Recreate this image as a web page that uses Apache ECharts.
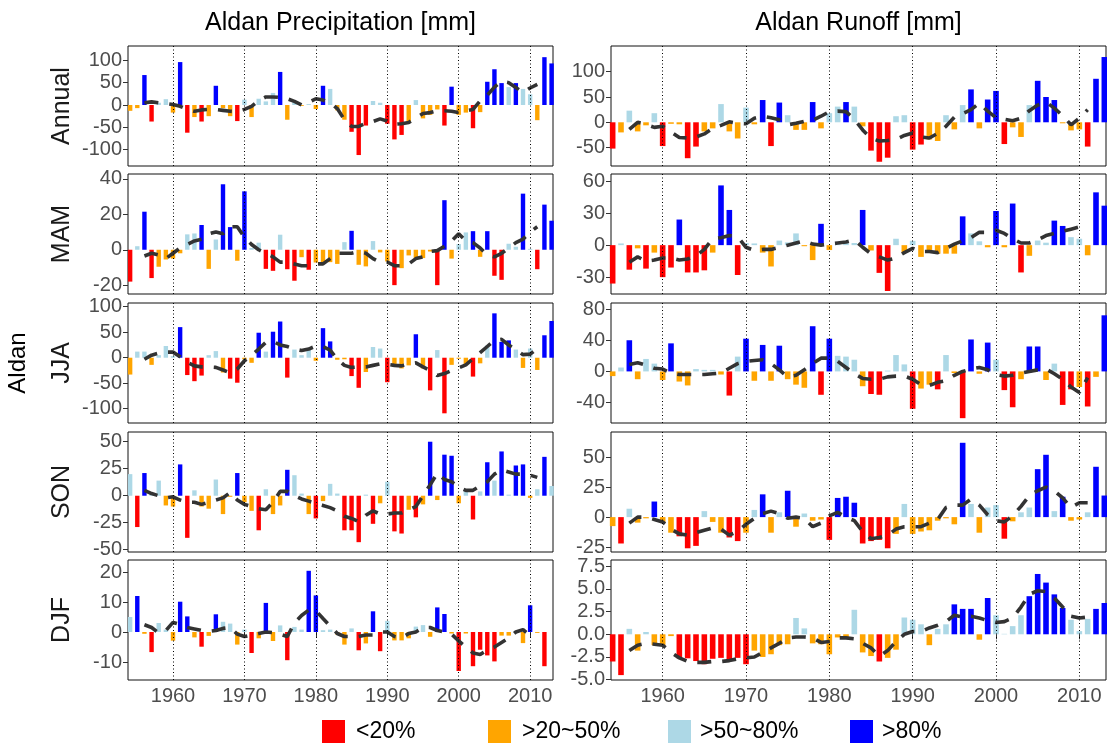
<!DOCTYPE html>
<html><head><meta charset="utf-8">
<script src="https://cdn.jsdelivr.net/npm/echarts@6/dist/echarts.min.js"></script>
<style>html,body{margin:0;padding:0;background:#fff}#c{width:1107px;height:745px}</style>
</head><body><div id="c"></div>
<script>
// ---------------- DATA ----------------
const FIRST_YEAR = 1954;          // bars: 1954..2013
const LINE_FIRST_YEAR = 1956;     // dashed running curve: 1956..2011
const DECADES = [1960, 1970, 1980, 1990, 2000, 2010];
const COLUMN_TITLES = ['Aldan Precipitation [mm]', 'Aldan Runoff [mm]'];
const ROW_LABELS = ['Annual', 'MAM', 'JJA', 'SON', 'DJF'];
const BASIN = 'Aldan';
const CLASS_NAMES = ['<20%', '>20~50%', '>50~80%', '>80%'];
const CLASS_KEYS = ['R', 'O', 'L', 'B'];

// Precipitation (left column)
const P_ANN = [-13,-7,67,-37,5,13,-17,96,-62,-27, -37,-25,43,-7,-25,-36,12,-27,14,8, 27,74,-33,8,-2,2,-9,43,36,-12, -33,-60,-112,-46,9,5,-42,-77,-67,-36, 11,-30,-22,-10,-46,41,-22,-17,-52,-16, 52,80,49,40,49,36,24,-34,107,93];
const P_ANN_CLS = 'OOBRLLOBRO' + 'ROBOORLOLL' + 'LBOLOLOBLO' + 'ORRRLLRRRO' + 'LOOORBOORO' + 'BBBLBLLOBB';
const P_ANN_AVG = [5,7,5,3,1,-3,-10,-14,-11,-10, -10,-12,-14,-15,-10,-3,10,18,18,17, 14,8,0,6,14,11,5,-8,-33,-48, -48,-41,-37,-31,-36,-43,-42,-39,-29,-19, -17,-13,-13,-14,-17,-13,-10,9,22,40, 53,50,39,28,38,46];

const P_MAM = [-18,2,21.5,-16,-9.6,-5.5,-5,-2,8.7,9.2, 14,-10.8,5.8,37,12.8,-6.2,33,1,4,-10.8, -11.9,8.5,-11,-17.5,-4.2,-11.3,-7.2,-7.2,-7,-8, 4.3,10.7,-8.5,-9.4,4.9,-1.5,-6.6,-20,-10.4,-3.2, -4.7,-4.7,-1,-20,28,-5,3.2,9.8,10.5,-4, 10.5,-14.7,-17,3.4,1.7,31.7,0.5,-11,25.5,16.4];
const P_MAM_CLS = 'RLBROOOOLL' + 'BOLBBOBLLR' + 'RLRRORO' + 'OOO' + 'LBOOLOOROO' + 'OOORBOLLBO' + 'BRRLLBLRBB';
const P_MAM_AVG = [-3.5,-2,-3,-5,-2,1,3,5,6,9, 10,9,13,13,7,3,0,-2,-4,-7, -7,-8,-9,-9,-8,-8,-5,-2,-2,-2, -1,-2,-5,-7,-7,-9,-9,-8,-5,-4, -1,-0.5,2,5,9,5,4,1,-3,-4, -2,1,4,6,10,13];

const P_JJA = [-33,12,12,-14,5,23,3,60,-34,-46, -35,5,13,-29,-41,-49,-3,-10,49,12, 51,71,-39,16,5,16,-6,58,32,-4, -3,-36,-59,-28,21,18,-48,-18,-21,-15, 46,-21,-64,15,-109,-14,-2,-14,-37,-11, 24,87,31,34,16,-20,18,-24,44,72];
const P_JJA_CLS = 'OLLOLLLBRR' + 'RLLORROOBL' + 'BBRLLLOBBO' + 'ORROLLROOO' + 'BORLROOORO' + 'LBBBLOLOBB';
const P_JJA_AVG = [-3,5,9,11,11,2,-9,-16,-18,-18, -19,-24,-30,-22,-6,5,17,30,32,25, 22,17,14,17,23,22,15,-3,-15,-19, -18,-18,-15,-12,-13,-15,-16,-12,-10,-18, -25,-35,-31,-25,-20,-14,-2,10,22,34, 36,25,16,6,7,18];

const P_SON = [20,-29,21,2,14,-9,-10,29,-39,5, -10,-12,15,-17,-1,21,-6,-14,-32,6, -17,-9,24,19,2,-17,-21,-5,11,2, -32,-32,-43,1,-26,-7,13,-33,-35,-13, -20,-8,50,-4,38,37,-7,5,-22,4, 31,14,41,1,28,29,-2,6,36,9];
const P_SON_CLS = 'LRBLLOOBRL' + 'OOLOOBOORL' + 'OOBLLOROLL' + 'RRRLROLRRO' + 'ROBOBBOLRL' + 'BLBLBBOLBL';
const P_SON_AVG = [5,2,0,-2,-1,-4,-6,-6,-8,-6, -4,-2,3,-4,-8,-10,-12,-13,-6,4, 4,0,-3,-5,-7,-9,-11,-14,-19,-21, -24,-18,-14,-17,-17,-16,-16,-13,-10,0, 10,21,15,13,8,5,5,9,13,20, 24,22,20,20,19,17];

const P_DJF = [5,12,-0.6,-6.7,3,0.8,-2.9,10.1,5.2,-1.8, -4.9,-1.3,5.9,3.4,2.8,-4.2,0.8,-7,-2.1,9.7, -3,2.2,-9.4,1.7,0.8,20.4,12.2,0.6,0.8,-0.8, -4.2,1.2,-6.1,-3.8,6.9,-6.4,3.7,-2.8,-2.8,-2.1, 1.8,2.3,-1.6,8.2,6,-0.5,-13,-0.5,-11.4,-5.9, -7.8,-9.8,-1.2,-1.2,0.3,-3.7,8.9,-0.3,-11.4,null];
const P_DJF_CLS = 'LBORLLOBBO' + 'ROBLLOLROB' + 'OLRLLBBLLO' + 'OLROBRLOOO' + 'LLOBBORORR' + 'RROOLOBORN';
const P_DJF_AVG = [2.4,1.5,-0.3,0.5,3.2,2.5,1.5,1,0.5,0.2, 0.5,1.2,1.5,-0.7,-1.5,-1,-0.5,0,-0.2,-0.7, -1.5,3,5.5,7.3,7.1,4.5,2,-0.5,-1.5,-1.5, -1.5,-1,-1,0,0,-1.5,-2,-0.5,0,1.5, 1.5,0.5,0,-0.7,-3,-5,-7,-7.5,-6,-5, -3.5,-2,0,0.8,-1.2,null];

// Runoff (right column)
const R_ANN = [-52,-20,23,-18,-6,18,-47,-3,-4,-71, -48,-18,-12,36,-18,-32,29,-4,44,-47, 39,14,-15,-15,40,-12,18,31,40,31, -8,-56,-78,-70,12,14,-54,-44,-34,-37, 14,-14,34,65,-12,45,62,-43,-10,-29, 34,82,50,44,-2,-16,-14,-48,86,129];
const R_ANN_CLS = 'ROLOOLROOR' + 'ROOLOOLOBR' + 'BLOOBOLLBL' + 'ORRRLLRROO' + 'LOLBOBBROO' + 'LBBBOOORBB';
const R_ANN_AVG = [-14,0,-4,-10,-8,-19,-30,-31,-29,-23, -12,-6,1,-2,-3,8,12,9,5,-5, -2,2,4,12,21,22,21,6,-15,-32, -37,-36,-34,-26,-21,-29,-31,-22,-8,10, 17,25,38,22,9,6,3,8,23,34, 40,28,13,-5,8,25];

const R_MAM = [-36,1.6,-23,-3,-22,-7,-30,-21,24,-25.6, -25.6,-23.6,-7,56,33,-28,2,1.6,-7,-20, 4.3,2.6,11,-1,-14,20,-4.6,2,2,2, 33,-5,-26,-43,6,-7,4,-11,-7,-8, -8,-8,27,11,3.6,-2,32,-2,39,-25.6, -10,4.3,2.3,23,18,7.5,6,-9.5,49.5,37];
const R_MAM_CLS = 'RLRORORRBR' + 'RROBBRLLOO' + 'LLLOOBOLLL' + 'BORRLOLOOO' + 'OOBLLOBOBR' + 'OLLBBLLOBB';
const R_MAM_AVG = [-16,-11,-15,-14,-12,-12,-14,-13,-10,-4, 6,7,9,8,-2,-5,-4,-4,-2,0, 2,4,1,0,1,2,3,5,-2,-8, -11,-14,-12,-7,-3,-6,-6,-7,-3,1, 4,7,12,12,14,11,6,2,2,5, 9,11,13,15,17,19];

const R_JJA = [-6,5,40,-10,16,10,-11,36,-13,-18, 3,2,2,-4,-31,19,42,-12,34,-12, 33,-10,-17,-21,58,-30,42,20,19,15, -19,-29,-30,1,21,9,-48,-22,-17,-23, 21,-2,-60,41,-3,37,15,-24,-46,-10, 32,32,-11,10,-43,-23,-20,-45,-7,72];
const R_JJA_CLS = 'OLBOLLOBOO' + 'LLLORLBOBO' + 'BOOOBRBLLL' + 'ORRLLLROOR' + 'LORBOBLRRO' + 'BBOLRROROB';
const R_JJA_AVG = [9,11,8,4,3,-2,-4,-4,-4,-4, -3,-2,4,10,13,14,15,10,2,-7, -5,2,10,17,17,13,5,-3,-9,-10, -10,-7,-6,-6,-10,-17,-18,-14,-12,-5, 0,3,5,2,-4,-6,-5,-2,0,2, 3,-3,-10,-20,-27,-8];

const R_SON = [-7.5,-22,7,-4.6,-1,13,-5,-13,-16,-26, -24,5,-4,-13,-17,-20,-13,6,19,-13, 4,22,-8,3,-3,-2,-19,16,17,12, -22,-20,-19,-26,-14,11,-14,-12,-11,-3, -1,-6,62,11,-13,8,10,-18,-3.5,4, 8,40,52,5,17,-3,-2,4,42,18];
const R_SON_CLS = 'ORLOOBOORR' + 'RLOORROLBO' + 'LBOLOORBBB' + 'RRRROLOOOO' + 'OOBLOLLROL' + 'LBBLBOOLBB';
const R_SON_AVG = [-5,0,0,-2,-4,-10,-14,-15,-13,-11, -9,-10,-15,-12,-6,-1,3,5,3,-1, 0,-1,-8,-5,1,4,0,-3,-12,-18, -17,-15,-10,-8,-8,-8,-5,-2,8,10, 10,15,10,2,-3,-4,1,9,18,22, 25,22,16,8,12,12];

const R_DJF = [-3.0,-4.5,0.6,-1.8,0.25,-1.2,-1.2,-0.2,-2.65,-2.65, -2.95,-3.3,-2.7,-2.6,-2.8,-2.6,-3.3,-1.8,-2.5,-2.2, -1.2,-1.1,1.8,0.65,-1.0,-1.1,-2.2,-0.35,-0.4,2.7, -2.0,-2.4,-3.0,-2.6,-1.7,1.85,1.6,1.1,-1.2,0.6, 1.1,3.3,2.8,2.8,-0.6,4.0,2.1,0.05,0.9,2.1, 4.2,6.65,5.7,4.4,2.9,1.6,0.35,1.7,2.8,3.45];
const R_DJF_CLS = 'RRLOLOOORR' + 'RRRRRRROOO' + 'OOLLOOOOOL' + 'OOROOLLLOL' + 'LBBBOBLLLL' + 'BBBBBLLLBB';
const R_DJF_AVG = [-1.8,-1.2,-1.0,-1.1,-1.2,-2.0,-2.6,-3.0,-3.1,-3.1, -3.0,-3.0,-2.9,-2.7,-2.6,-2.5,-2.0,-1.5,-1.0,-0.4, -0.3,-0.3,-0.4,-0.9,-0.8,-0.4,-0.4,-0.5,-1.0,-1.5, -2.4,-1.8,-0.8,0.0,0.3,0.3,0.7,1.0,1.4,2.1, 1.9,2.0,1.8,1.5,1.3,1.4,1.8,3.0,4.4,4.8, 4.7,4.0,3.0,2.0,1.8,1.9];

// y tick values per panel
const TICKS_P_ANN = [-100,-50,0,50,100], TICKS_R_ANN = [-50,0,50,100];
const TICKS_P_MAM = [-20,0,20,40],       TICKS_R_MAM = [-30,0,30,60];
const TICKS_P_JJA = [-100,-50,0,50,100], TICKS_R_JJA = [-40,0,40,80];
const TICKS_P_SON = [-50,-25,0,25,50],   TICKS_R_SON = [-25,0,25,50];
const TICKS_P_DJF = [-10,0,10,20],       TICKS_R_DJF = [-5,-2.5,0,2.5,5,7.5];

// ---------------- LAYOUT / STYLE ----------------
const FONT = "'Liberation Sans', Arial, Helvetica, sans-serif";
const COLORS = {R:'#FF0000', O:'#FFA500', L:'#ADD8E6', B:'#0000FF'};
const COL_LEFT = [128, 611], COL_W = [425, 495];
const ROW_TOP = [46, 174, 303, 432, 560], ROW_H = 120;
const X_RANGE = [[1953.7, 2013.2], [1953.8, 2013.2]];
const BAR_W = [4.4, 5.6];
const LEG_BOX_X = [322, 488, 668, 850], LEG_TEXT_X = [356, 522, 700, 882], LEG_Y = 720, LEG_BOX = 23;

const PANELS = [
  {v:P_ANN, c:P_ANN_CLS, a:P_ANN_AVG, t:TICKS_P_ANN, y:[-136.5,132], dec:0},
  {v:R_ANN, c:R_ANN_CLS, a:R_ANN_AVG, t:TICKS_R_ANN, y:[-86.4,150.8], dec:0},
  {v:P_MAM, c:P_MAM_CLS, a:P_MAM_AVG, t:TICKS_P_MAM, y:[-25,42.8], dec:0},
  {v:R_MAM, c:R_MAM_CLS, a:R_MAM_AVG, t:TICKS_R_MAM, y:[-45.8,66.7], dec:0},
  {v:P_JJA, c:P_JJA_CLS, a:P_JJA_AVG, t:TICKS_P_JJA, y:[-128,107.3], dec:0},
  {v:R_JJA, c:R_JJA_CLS, a:R_JJA_AVG, t:TICKS_R_JJA, y:[-66.2,87.8], dec:0},
  {v:P_SON, c:P_SON_CLS, a:P_SON_AVG, t:TICKS_P_SON, y:[-52.1,59], dec:0},
  {v:R_SON, c:R_SON_CLS, a:R_SON_AVG, t:TICKS_R_SON, y:[-29.1,71], dec:0},
  {v:P_DJF, c:P_DJF_CLS, a:P_DJF_AVG, t:TICKS_P_DJF, y:[-16,24], dec:0},
  {v:R_DJF, c:R_DJF_CLS, a:R_DJF_AVG, t:TICKS_R_DJF, y:[-5.04,8.19], dec:1}
];

const grid = [], xAxis = [], yAxis = [], series = [];
PANELS.forEach((p, i) => {
  const row = Math.floor(i / 2), col = i % 2, bottom = row === 4;
  grid.push({left: COL_LEFT[col], top: ROW_TOP[row], width: COL_W[col], height: ROW_H,
    show: true, borderColor: '#111', borderWidth: 1, backgroundColor: '#fff'});
  xAxis.push({type: 'value', gridIndex: i, min: X_RANGE[col][0], max: X_RANGE[col][1],
    axisLine: {show: false}, splitLine: {show: false},
    axisTick: {show: bottom, customValues: DECADES, length: 5, lineStyle: {color: '#333'}},
    axisLabel: {show: bottom, customValues: DECADES, color: '#4D4D4D', fontSize: 20, fontFamily: FONT, margin: 6,
      formatter: v => String(v)}});
  yAxis.push({type: 'value', gridIndex: i, min: p.y[0], max: p.y[1],
    axisLine: {show: false}, splitLine: {show: false},
    axisTick: {show: true, customValues: p.t, length: 5, lineStyle: {color: '#333'}},
    axisLabel: {customValues: p.t, color: '#4D4D4D', fontSize: 20, fontFamily: FONT, margin: 6,
      formatter: v => p.dec ? v.toFixed(1) : String(v)}});
  const bars = [];
  p.v.forEach((val, k) => {
    if (val === null || p.c[k] === 'N') return;
    bars.push({value: [FIRST_YEAR + k, val], itemStyle: {color: COLORS[p.c[k]]}});
  });
  series.push({type: 'bar', xAxisIndex: i, yAxisIndex: i, data: bars, barWidth: BAR_W[col],
    silent: true, animation: false, z: 2,
    markLine: {silent: true, symbol: ['none', 'none'], label: {show: false}, animation: false,
      lineStyle: {color: '#000', width: 1, type: [1, 2.5]}, data: DECADES.map(d => ({xAxis: d}))}});
  series.push({type: 'line', xAxisIndex: i, yAxisIndex: i, z: 4, silent: true, animation: false,
    data: p.a.map((val, k) => [LINE_FIRST_YEAR + k, val]), showSymbol: false, symbol: 'none',
    connectNulls: false,
    lineStyle: {color: '#333333', width: 3.6, type: [14, 11], cap: 'butt'}});
});

const graphic = [];
COLUMN_TITLES.forEach((t, c) => graphic.push({type: 'text', x: COL_LEFT[c] + COL_W[c] / 2, y: 23,
  style: {text: t, font: '25px ' + FONT, fill: '#000', textAlign: 'center', textVerticalAlign: 'middle'}}));
ROW_LABELS.forEach((t, r) => graphic.push({type: 'text', x: 62, y: ROW_TOP[r] + ROW_H / 2, rotation: Math.PI / 2,
  style: {text: t, font: '25px ' + FONT, fill: '#1a1a1a', textAlign: 'center', textVerticalAlign: 'middle'}}));
graphic.push({type: 'text', x: 18, y: (ROW_TOP[0] + ROW_TOP[4] + ROW_H) / 2, rotation: Math.PI / 2,
  style: {text: BASIN, font: '24px ' + FONT, fill: '#000', textAlign: 'center', textVerticalAlign: 'middle'}});
CLASS_KEYS.forEach((k, j) => {
  graphic.push({type: 'rect', shape: {x: LEG_BOX_X[j], y: LEG_Y, width: LEG_BOX, height: LEG_BOX},
    style: {fill: COLORS[k]}});
  graphic.push({type: 'text', x: LEG_TEXT_X[j], y: LEG_Y + LEG_BOX / 2,
    style: {text: CLASS_NAMES[j], font: '23px ' + FONT, fill: '#000', textAlign: 'left', textVerticalAlign: 'middle'}});
});

const chart = echarts.init(document.getElementById('c'), null, {renderer: 'canvas'});
chart.setOption({animation: false, backgroundColor: '#fff', grid, xAxis, yAxis, series, graphic});
</script></body></html>
